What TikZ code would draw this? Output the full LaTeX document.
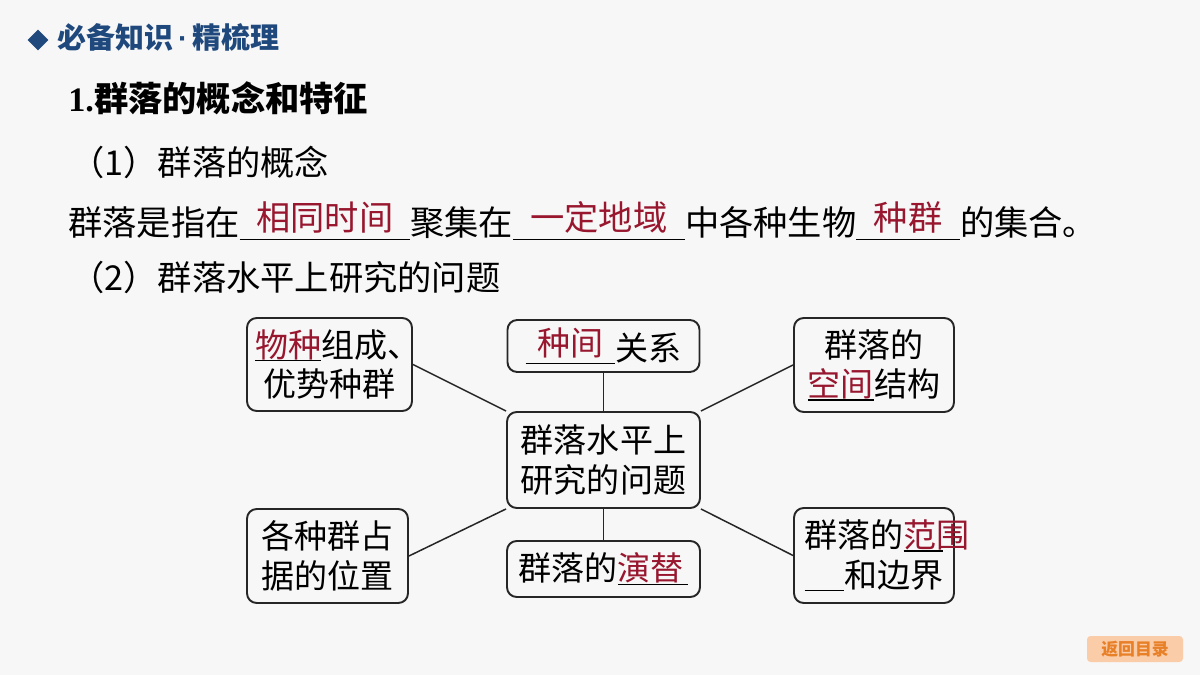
\documentclass[tikz,border=0pt]{standalone}
\usepackage{fontspec}
\usepackage{xcolor}
\usetikzlibrary{shapes.geometric}
\setmainfont{Liberation Serif}
\newfontfamily\cjk{Noto Sans CJK SC}
\newfontfamily\latsans{Liberation Sans}

\definecolor{headblue}{RGB}{31,73,125}
\definecolor{ansred}{RGB}{152,22,46}
\definecolor{btnfill}{RGB}{251,204,168}
\definecolor{btntext}{RGB}{232,128,40}

% blank with the answer set above the line
\newcommand\blankans[2]{\makebox[0pt][l]{\rule[-2.3pt]{#1}{0.8pt}}\makebox[#1]{\raisebox{3pt}{\color{ansred}#2}}}
% answer set on the line
\newcommand\lineans[2]{\makebox[#1][l]{\rlap{\rule[-2.3pt]{#1}{0.8pt}}\color{ansred}#2}}

\begin{document}
\begin{tikzpicture}[x=0.02cm,y=-0.02cm,
	txt/.style={inner sep=0pt, font=\cjk\fontsize{19.5}{23}\selectfont},
	box/.style={draw=black!85, line width=1.1pt, rounded corners=5.5pt, inner sep=0pt, align=center, font=\cjk\fontsize{18.8}{22.5}\selectfont},
	link/.style={draw=black!85, line width=0.85pt}]
	\useasboundingbox[fill=black!3] (0,0) rectangle (1200,675);
	% heading
	\node[diamond, fill=headblue, inner sep=0pt, minimum width=0.42cm, minimum height=0.42cm] (bullet) at (38,40) {};
	\node[anchor=base west, inner sep=0pt, text=headblue, font=\cjk\bfseries\fontsize{16.5}{20}\selectfont] (head) at (57,49) {必备知识{\latsans\,·\,}精梳理};
	\node[anchor=base west, inner sep=0pt, font=\bfseries\fontsize{19.5}{23}\selectfont] (title) at (68,112) {1.{\cjk 群落的概念和特征}};
	\node[txt, anchor=base west] (sub1) at (70,176) {（1）群落的概念};
	\node[txt, anchor=base west] (def) at (68,236) {群落是指在\blankans{97pt}{相同时间}聚集在\blankans{98pt}{一定地域}中各种生物\blankans{59pt}{种群}的集合。};
	\node[txt, anchor=base west] (sub2) at (70,291) {（2）群落水平上研究的问题};
	% boxes
	\node[box, minimum width=3.86cm, minimum height=1.92cm] (c) at (603.5,460) {群落水平上\\研究的问题};
	\node[box, minimum width=3.3cm, minimum height=1.86cm] (tl) at (329.5,364.5) {\lineans{37.6pt}{物种}组成\makebox[0.5em][l]{、}\\优势种群};
	\node[box, minimum width=3.84cm, minimum height=1.04cm] (tc) at (603.5,346) {\blankans{51pt}{种间}关系};
	\node[box, minimum width=3.2cm, minimum height=1.88cm] (tr) at (874,365) {群落的\\\lineans{37.6pt}{空间}结构};
	\node[box, minimum width=3.22cm, minimum height=1.88cm] (bl) at (327.5,556) {各种群占\\据的位置};
	\node[box, minimum width=3.86cm, minimum height=1.12cm] (bc) at (603.5,569) {群落的\lineans{40pt}{演替}};
	\node[box, minimum width=3.2cm, minimum height=1.9cm, align=left] (br) at (874,555.5) {群落的\lineans{22.7pt}{范围}\\\rule[-2.3pt]{22.7pt}{0.8pt}和边界};
	% connectors
	\draw[link] (tl.east) -- (c.north west);
	\draw[link] (tc.south) -- (c.north);
	\draw[link] (tr.west) -- (c.north east);
	\draw[link] (bl.east) -- (c.south west);
	\draw[link] (bc.north) -- (c.south);
	\draw[link] (br.west) -- (c.south east);
	% back button
	\node[fill=btnfill, rounded corners=2pt, minimum width=1.92cm, minimum height=0.52cm, inner sep=0pt, text=btntext, font=\cjk\bfseries\fontsize{9.6}{11}\selectfont] (back) at (1135,649) {返回目录};
\end{tikzpicture}
\end{document}
